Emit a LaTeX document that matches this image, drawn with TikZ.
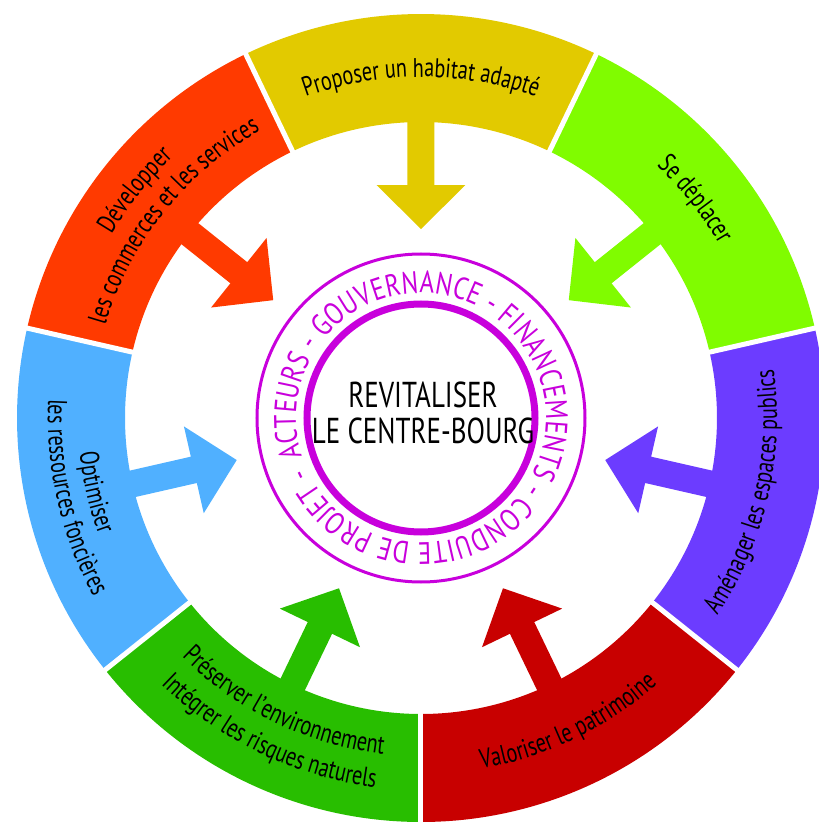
\documentclass[tikz,border=0pt]{standalone}
\usepackage{fontspec}
\usetikzlibrary{decorations.text}
\newfontfamily\condfont{PT Sans}[FakeStretch=0.75]
\newfontfamily\ringfont{PT Sans}[FakeStretch=0.8]
\definecolor{cyellow}{RGB}{226,202,0}
\definecolor{clgreen}{RGB}{128,252,0}
\definecolor{cpurple}{RGB}{108,60,255}
\definecolor{cred}{RGB}{200,0,0}
\definecolor{cgreen}{RGB}{40,190,0}
\definecolor{cblue}{RGB}{80,176,255}
\definecolor{corange}{RGB}{255,58,0}
\definecolor{cmag}{RGB}{200,0,220}
\newcommand{\labfont}{\condfont\fontsize{27}{30}\selectfont}
\newcommand{\rngfont}{\ringfont\fontsize{31}{34}\selectfont}
\tikzset{
  gapline/.style={white, line width=5pt},
  titletext/.style={font=\condfont\fontsize{36}{40}\selectfont, text=black, inner sep=0pt},
  cwlabel/.style={decorate, decoration={text along path, text align=center, text={|\labfont|#1}}},
  ccwlabel/.style={decorate, decoration={text along path, text align=center, text={|\labfont|#1}}},
}
\begin{document}
\begin{tikzpicture}[x=1pt,y=1pt]
\useasboundingbox (-421,-404) rectangle (398,418);
\clip (-421,-404) rectangle (398,418);
\def\rin{296}
\def\rout{404}
% segments and arrows
\foreach \k/\col in {0/cred,1/cpurple,2/clgreen,3/cyellow,4/corange,5/cblue,6/cgreen}{
  \pgfmathsetmacro\ba{270+\k*360/7}
  \pgfmathsetmacro\bb{\ba+360/7}
  \pgfmathsetmacro\bm{\ba+180/7}
  \fill[\col] (\ba:\rin) arc[start angle=\ba, end angle=\bb, radius=\rin]
     -- (\bb:\rout) arc[start angle=\bb, end angle=\ba, radius=\rout] -- cycle;
  \begin{scope}[rotate=\bm]
    \fill[\col] (189,0) -- (233,44.5) -- (233,13.5) -- (300,13.5)
       -- (300,-13.5) -- (233,-13.5) -- (233,-44.5) -- cycle;
  \end{scope}
}
\foreach \k in {0,...,6}{
  \draw[gapline] ({270+\k*360/7}:285) -- ({270+\k*360/7}:415);
}
% labels, clockwise (tops outward)
\path[cwlabel={Proposer un habitat adapté}] (130:341) arc[start angle=130, end angle=50, radius=341];
\path[cwlabel={Se déplacer}] (78.57:345) arc[start angle=78.57, end angle=-1.43, radius=345];
\path[cwlabel={Développer}] (181.43:360) arc[start angle=181.43, end angle=101.43, radius=360];
\path[cwlabel={les commerces et les services}] (181.43:329) arc[start angle=181.43, end angle=101.43, radius=329];
% labels, counterclockwise (tops inward)
\path[ccwlabel={Optimiser}] (152.86:343) arc[start angle=152.86, end angle=232.86, radius=343];
\path[ccwlabel={les ressources foncières}] (152.86:373) arc[start angle=152.86, end angle=232.86, radius=373];
\path[ccwlabel={Préserver l’environnement}] (204.29:338) arc[start angle=204.29, end angle=284.29, radius=338];
\path[ccwlabel={Intégrer les risques naturels}] (204.29:372) arc[start angle=204.29, end angle=284.29, radius=372];
\path[ccwlabel={Valoriser le patrimoine}] (255.71:356) arc[start angle=255.71, end angle=335.71, radius=356];
\path[ccwlabel={Aménager les espaces publics}] (307.14:356) arc[start angle=307.14, end angle=387.14, radius=356];
% centre
\draw[cmag, line width=7pt] (0,0) circle[radius=114];
\draw[cmag, line width=3pt] (0,0) circle[radius=164];
\path[decorate, decoration={text along path, text color=cmag, text align=fit to path,
  text={|\rngfont|ACTEURS - GOUVERNANCE - FINANCEMENTS - CONDUITE DE PROJET -}}]
  (198:125) arc[start angle=198, end angle=-156.5, radius=125];
\node[titletext, anchor=base] (t1) at (2,11) {REVITALISER};
\node[titletext, anchor=base] (t2) at (2,-25) {LE CENTRE-BOURG};
\end{tikzpicture}
\end{document}
